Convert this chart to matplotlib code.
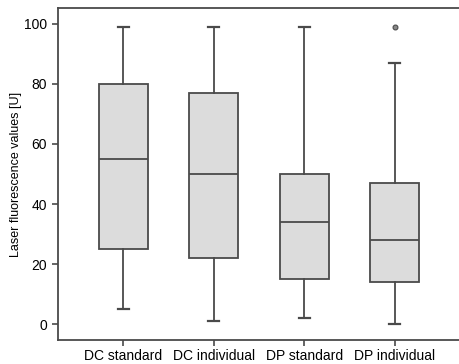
import matplotlib
matplotlib.use("Agg")
import matplotlib.pyplot as plt

plt.rcParams['font.family'] = ['Liberation Sans', 'DejaVu Sans']

groups = ["DC standard", "DC individual", "DP standard", "DP individual"]
whislo = [5, 1, 2, 0]
q1 = [25, 22, 15, 14]
med = [55, 50, 34, 28]
q3 = [80, 77, 50, 47]
whishi = [99, 99, 99, 87]
outliers = [[], [], [], [99]]

stats = []
for i, g in enumerate(groups):
    stats.append(dict(label=g, whislo=whislo[i], q1=q1[i], med=med[i],
                      q3=q3[i], whishi=whishi[i], fliers=outliers[i]))

edge = "#4a4a4a"
fig = plt.figure(figsize=(4.6, 3.64), dpi=100)
ax = fig.add_axes([0.126, 0.066, 0.874, 0.912])

ax.bxp(stats, widths=0.54, patch_artist=True, showfliers=True,
       boxprops=dict(facecolor="#dcdcdc", edgecolor=edge, linewidth=1.3),
       medianprops=dict(color=edge, linewidth=1.3),
       whiskerprops=dict(color=edge, linewidth=1.3),
       capprops=dict(color=edge, linewidth=1.6),
       capwidths=0.12,
       flierprops=dict(marker="o", markersize=3.5, markerfacecolor="#888888",
                       markeredgecolor=edge, markeredgewidth=0.8))

ax.set_xlim(0.28, 4.72)
ax.set_ylim(-5.3, 105.3)
ax.set_yticks([0, 20, 40, 60, 80, 100])
ax.set_ylabel("Laser fluorescence values [U]", fontsize=9, labelpad=1)

ax.spines["right"].set_visible(False)
for s in ["left", "bottom", "top"]:
    ax.spines[s].set_color(edge)
    ax.spines[s].set_linewidth(1.3)
ax.tick_params(colors=edge, labelcolor="black", labelsize=10, length=4.5, width=1.2)
ax.tick_params(axis="x", pad=2)

fig.savefig("out.png", dpi=100)
